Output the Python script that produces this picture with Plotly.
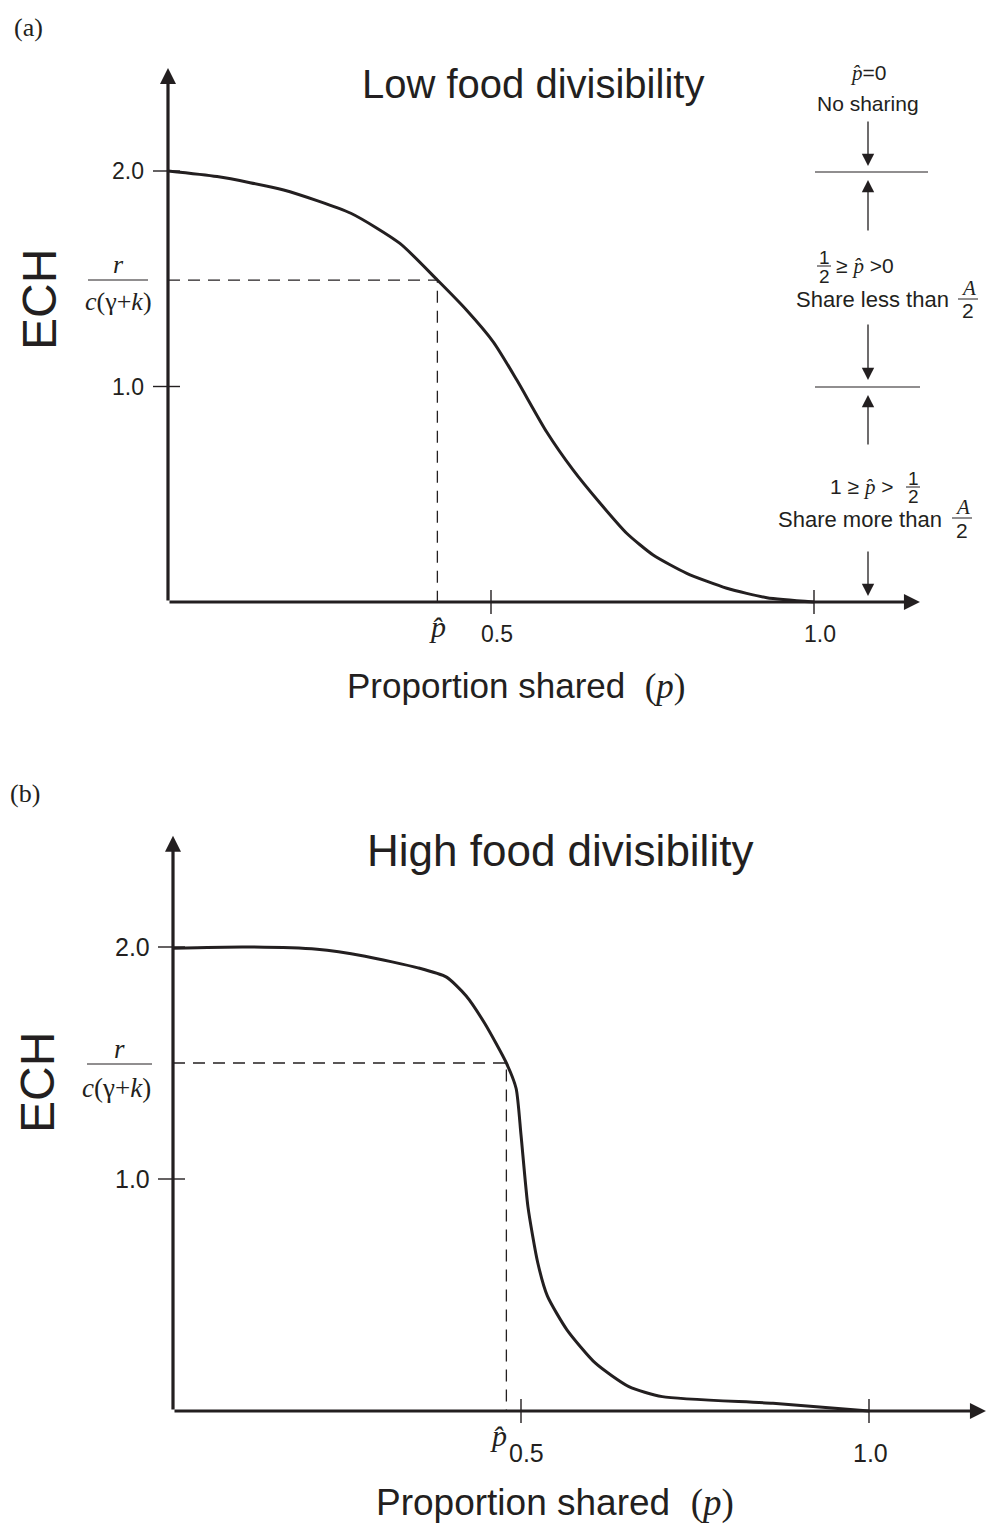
import plotly.graph_objects as go

# ---------------- data ----------------
# Panel (a): low food divisibility
p_a = [0.0, 0.076, 0.179, 0.283, 0.359, 0.417, 0.462, 0.504, 0.540, 0.586, 0.627,
       0.669, 0.710, 0.751, 0.803, 0.865, 0.927, 1.0]
ech_a = [2.0, 1.974, 1.912, 1.804, 1.664, 1.494, 1.355, 1.205, 1.030, 0.790, 0.613,
         0.458, 0.319, 0.218, 0.133, 0.064, 0.020, 0.0]
phat_a = 0.417
thresh_a = 1.494

# Panel (b): high food divisibility
p_b = [0.0, 0.103, 0.207, 0.276, 0.352, 0.393, 0.421, 0.448, 0.479, 0.493, 0.5, 0.51, 0.524,
       0.538, 0.566, 0.607, 0.655, 0.703, 0.862, 1.0]
ech_b = [1.995, 2.0, 1.99, 1.96, 1.91, 1.87, 1.79, 1.67, 1.50, 1.39, 1.19, 0.88, 0.64,
         0.495, 0.35, 0.206, 0.105, 0.062, 0.033, 0.0]
phat_b = 0.479
thresh_b = 1.50

x_ticks = [0.5, 1.0]
x_tick_labels = ["0.5", "1.0"]
y_ticks = [2.0, 1.0]
y_tick_labels = ["2.0", "1.0"]

# ---------------- layout helpers ----------------
W, H = 991, 1530
INK = "#231f20"
SANS = "Liberation Sans, Arial, sans-serif"
SERIF = "Liberation Serif, Times New Roman, serif"


def px(x, y):
    return x / W, 1 - y / H


fig = go.Figure()

# axis pixel anchors: (origin px, unit px)
A = dict(ox=168, xs=646, oy=602, ys=215.5)
B = dict(ox=173, xs=696, oy=1411, ys=232)

fig.update_layout(
    width=W, height=H, margin=dict(l=0, r=0, t=0, b=0),
    paper_bgcolor="white", plot_bgcolor="rgba(0,0,0,0)", showlegend=False,
    xaxis=dict(domain=[0, 1], range=[-A["ox"] / A["xs"], (W - A["ox"]) / A["xs"]], visible=False, anchor="y"),
    yaxis=dict(domain=[0.5, 1], range=[(A["oy"] - 765) / A["ys"], A["oy"] / A["ys"]], visible=False, anchor="x"),
    xaxis2=dict(domain=[0, 1], range=[-B["ox"] / B["xs"], (W - B["ox"]) / B["xs"]], visible=False, anchor="y2"),
    yaxis2=dict(domain=[0, 0.5], range=[(B["oy"] - H) / B["ys"], (B["oy"] - 765) / B["ys"]], visible=False, anchor="x2"),
)

annotations = []
shapes = []


def text(x, y, s, size, font=SANS, xanchor="center", yanchor="middle", xref="paper", yref="paper", **kw):
    annotations.append(dict(x=x, y=y, xref=xref, yref=yref, text=s, showarrow=False,
                            xanchor=xanchor, yanchor=yanchor,
                            font=dict(family=font, size=size, color=INK), **kw))


def ptext(x, y, s, size, font=SANS, **kw):
    X, Y = px(x, y)
    text(X, Y, s, size, font=font, **kw)


def pline(x0, y0, x1, y1, width=1.2):
    X0, Y0 = px(x0, y0)
    X1, Y1 = px(x1, y1)
    shapes.append(dict(type="line", xref="paper", yref="paper", x0=X0, y0=Y0, x1=X1, y1=Y1,
                       line=dict(color=INK, width=width)))


def parrow(xh, yh, xt, yt, width=1.3, size=1.9):
    X, Y = px(xh, yh)
    annotations.append(dict(x=X, y=Y, xref="paper", yref="paper", ax=xt - xh, ay=yt - yh,
                            text="", showarrow=True, arrowhead=2, arrowsize=size,
                            arrowwidth=width, arrowcolor=INK, standoff=0))


def fraction(xc, ybar, num, den, half, size, nfont=SANS, dfont=SANS, gap=10, bw=1.0):
    ptext(xc, ybar - gap, num, size, font=nfont)
    ptext(xc, ybar + gap + 1, den, size, font=dfont)
    pline(xc - half, ybar, xc + half, ybar, width=bw)


PHAT = "<i>p\u0302</i>"


def panel(xr, yr, P, E, phat, thr, ext, tick_lab_size, ylab_shift, xlab_shift_y, xlab_dx, smooth):
    # curve
    fig.add_trace(go.Scatter(x=P, y=E, mode="lines", xaxis=xr, yaxis=yr,
                             line=dict(color=INK, width=3, shape="spline", smoothing=smooth),
                             hoverinfo="skip"))
    # dashed guides
    fig.add_trace(go.Scatter(x=[0, phat, phat], y=[thr, thr, 0], mode="lines", xaxis=xr, yaxis=yr,
                             line=dict(color=INK, width=1.3, dash="12px,8px"), hoverinfo="skip"))
    xref = xr
    yref = yr
    # axes with arrows
    for (hx, hy) in [(ext[0], 0), (0, ext[1])]:
        annotations.append(dict(x=hx, y=hy, xref=xref, yref=yref, ax=0, ay=0,
                                axref=xref, ayref=yref, text="", showarrow=True,
                                arrowhead=2, arrowsize=1.0, arrowwidth=3.2,
                                arrowcolor=INK, standoff=0))
    # ticks
    for t, lab in zip(x_ticks, x_tick_labels):
        shapes.append(dict(type="line", xref=xref, yref=yref, x0=t, x1=t, ysizemode="pixel",
                           yanchor=0, y0=-12, y1=12, line=dict(color=INK, width=1.4)))
        text(t, 0, lab, tick_lab_size, xref=xref, yref=yref, yshift=xlab_shift_y, xshift=xlab_dx.get(lab, 0))
    for t, lab in zip(y_ticks, y_tick_labels):
        shapes.append(dict(type="line", xref=xref, yref=yref, y0=t, y1=t, xsizemode="pixel",
                           xanchor=0, x0=-15, x1=12, line=dict(color=INK, width=1.4)))
        text(0, t, lab, tick_lab_size, xref=xref, yref=yref, xanchor="right", xshift=ylab_shift)


# ---------- panel (a) ----------
panel("x", "y", p_a, ech_a, phat_a, thresh_a, (1.164, 2.478), 23, -22, -32, {"0.5": 6, "1.0": 6}, 0.6)
text(phat_a, 0, PHAT, 30, font=SERIF, xref="x", yref="y", yshift=-24)
ptext(28, 27, "(a)", 26, font=SERIF)
ptext(533, 84, "Low food divisibility", 40)
ptext(516, 686, "Proportion shared  <span style='font-family:Liberation Serif'>(<i>p</i>)</span>", 35)
ptext(40, 300, "ECH", 48, textangle=-90)
ptext(118, 264, "<i>r</i>", 26, font=SERIF)
ptext(118, 302, "<i>c</i>(γ+<i>k</i>)", 26, font=SERIF)
pline(88, 280, 148, 280, width=1.0)

# right-hand explanatory column
ptext(868, 73, "<span style='font-family:Liberation Serif'><i>p\u0302</i></span>=0", 21)
ptext(868, 104, "No sharing", 21)
parrow(868, 166, 868, 120)
pline(815, 172, 928, 172, width=1.2)
parrow(868, 180, 868, 232)
fraction(824, 266, "1", "2", 7, 19, gap=9)
ptext(834, 266, "≥ <span style='font-family:Liberation Serif'><i>p\u0302</i></span> >0", 21, xanchor="left")
ptext(951, 300, "Share less than", 22, xanchor="right")
fraction(968, 299, "<i>A</i>", "2", 10, 21, nfont=SERIF, gap=11)
parrow(868, 380, 868, 323)
pline(815, 387, 920, 387, width=1.2)
parrow(868, 395, 868, 446)
ptext(828, 487, "1 ≥ <span style='font-family:Liberation Serif'><i>p\u0302</i></span> >", 21, xanchor="left")
fraction(913, 487, "1", "2", 7, 19, gap=9)
ptext(944, 519, "Share more than", 22, xanchor="right")
fraction(962, 518, "<i>A</i>", "2", 10, 21, nfont=SERIF, gap=11)
parrow(868, 596, 868, 550)

# ---------- panel (b) ----------
panel("x2", "y2", p_b, ech_b, phat_b, thresh_b, (1.168, 2.48), 25, -21, -42, {"0.5": 5, "1.0": 1}, 0.6)
text(phat_b, 0, PHAT, 30, font=SERIF, xref="x2", yref="y2", yshift=-24, xshift=-8)
ptext(25, 793, "(b)", 26, font=SERIF)
ptext(560, 850, "High food divisibility", 44)
ptext(555, 1503, "Proportion shared  <span style='font-family:Liberation Serif'>(<i>p</i>)</span>", 37)
ptext(37, 1083, "ECH", 48, textangle=-90)
ptext(119, 1049, "<i>r</i>", 27, font=SERIF)
ptext(116, 1088, "<i>c</i>(γ+<i>k</i>)", 27, font=SERIF)
pline(87, 1064, 152, 1064, width=1.0)

fig.update_layout(annotations=annotations, shapes=shapes)
fig.write_html("out.html")
